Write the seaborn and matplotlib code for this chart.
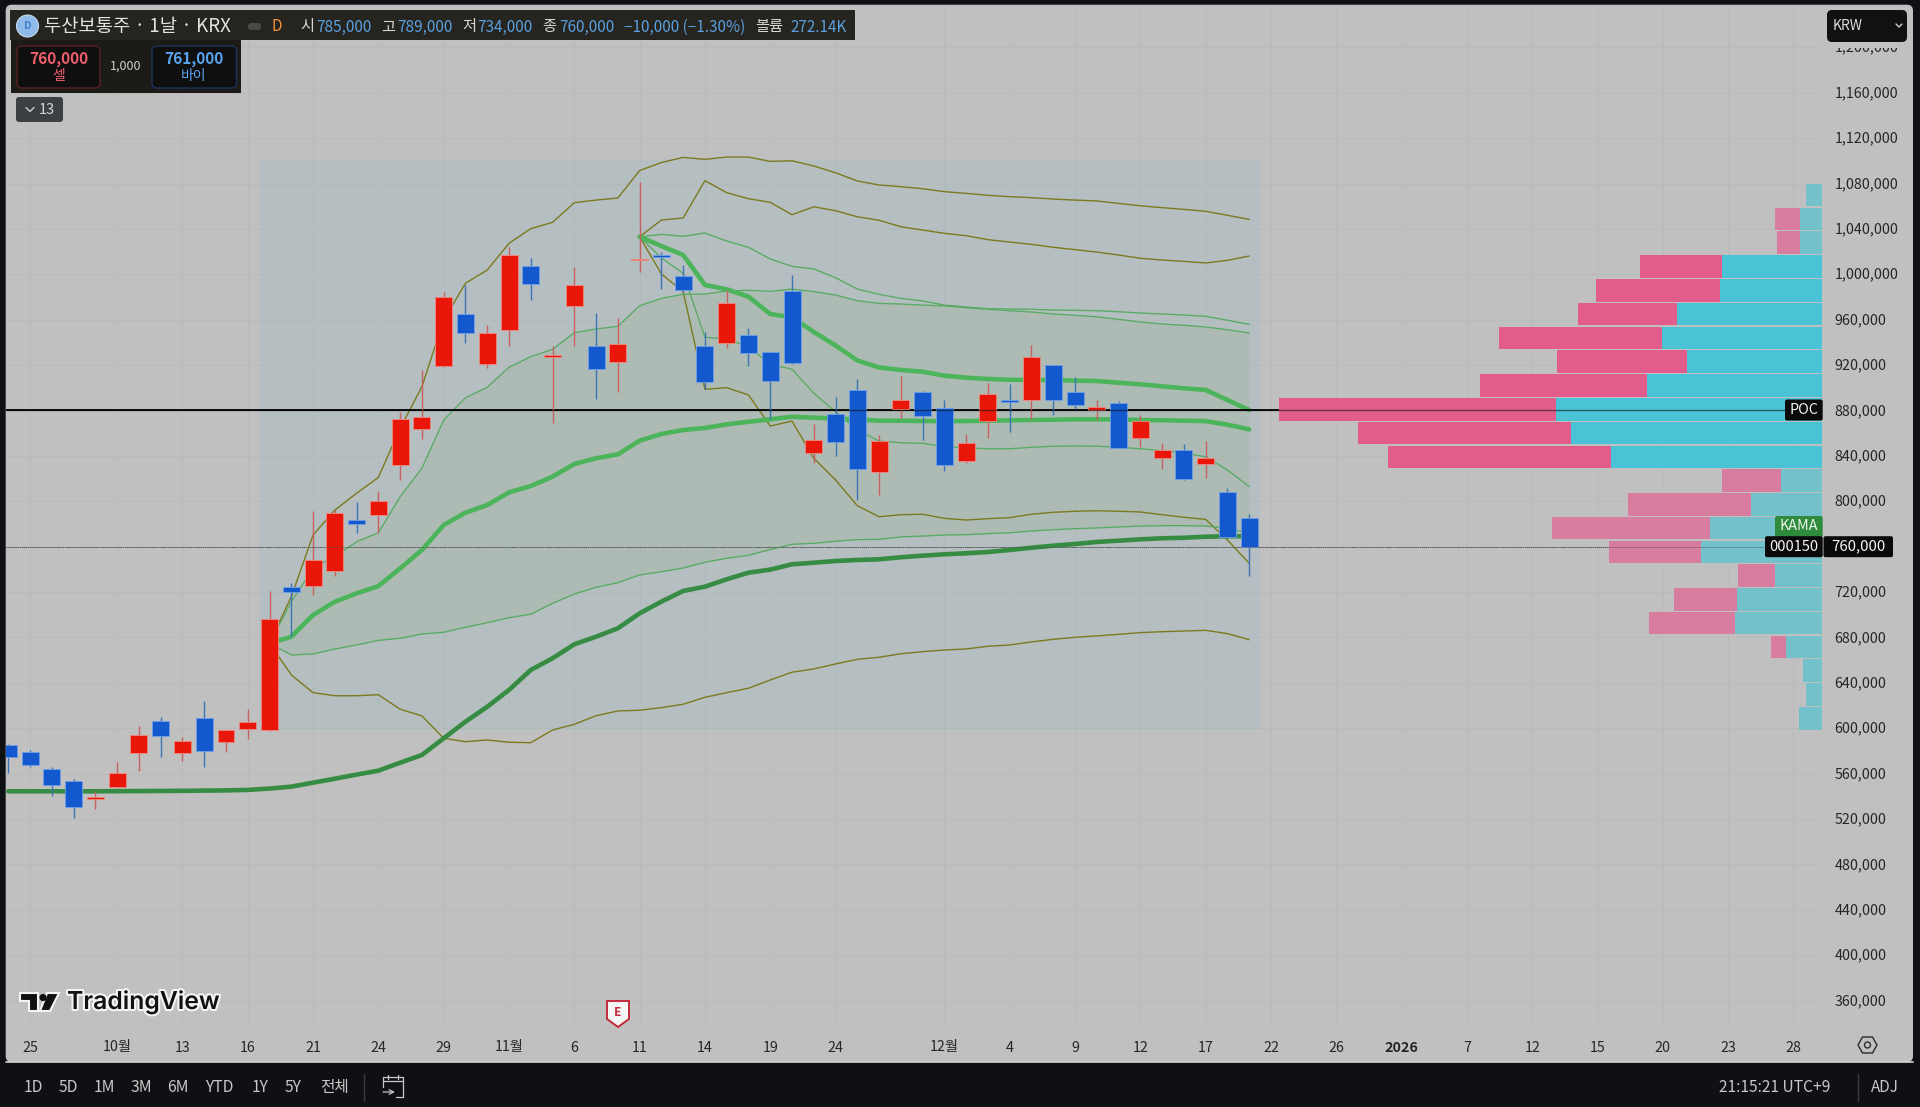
"""Doosan preferred daily candles with anchored VWAP bands and a volume profile."""

import numpy as np
import pandas as pd
import matplotlib
matplotlib.use("Agg")
import matplotlib.pyplot as plt
import matplotlib.patheffects as pe
from matplotlib.patches import FancyBboxPatch, Polygon, Circle, Rectangle
from matplotlib.transforms import ScaledTranslation
import seaborn as sns

# ── Candles ────────────────────────────────────────────────────────────────────

opens = [585300, 579100, 563900, 553900, 537700, 548600, 578500, 606700, 578500, 609100,
         587700, 599400, 598500, 724300, 725600, 738600, 783500, 787900, 831700, 864000,
         918900, 965300, 921000, 950700, 1007300, 926900, 971800, 936800, 922700, 1012900,
         1016700, 998200, 936800, 939700, 946100, 931300, 985000, 842800, 877200, 898300,
         825800, 881000, 896300, 881900, 835800, 871000, 889300, 889500, 920100, 896300,
         880400, 886900, 855500, 838400, 844900, 833100, 807900, 785000]
closes = [575000, 568000, 549800, 530400, 539800, 560600, 593900, 593500, 589100, 579800,
          598200, 605300, 696000, 720100, 748300, 790000, 780000, 800300, 872800, 874000,
          980000, 948500, 948300, 1017000, 991700, 928900, 990300, 916800, 938300, 1013700,
          1015000, 985900, 905100, 974400, 930900, 906000, 921800, 854000, 852500, 828700,
          853100, 889300, 874900, 831700, 851400, 894800, 887800, 927100, 889000, 885100,
          883100, 847200, 871000, 844900, 819900, 837900, 768800, 760000]
highs = [586000, 580900, 565600, 555600, 545000, 570000, 602000, 610000, 592100, 624000,
         599200, 617000, 721000, 728300, 791400, 792300, 799100, 809300, 879000, 915700,
         984100, 990600, 955300, 1023800, 1014400, 936800, 1006400, 965600, 961200, 1081000,
         1019900, 1007900, 948900, 986200, 952700, 931800, 999000, 868100, 892200, 908000,
         858100, 910700, 897200, 889300, 859300, 904000, 903100, 938000, 920500, 909200,
         889300, 888000, 876000, 851400, 850200, 852900, 812000, 789000]
lows = [560400, 566200, 540100, 521300, 529200, 547400, 562100, 575000, 571200, 566200,
        579100, 590600, 597400, 681300, 717300, 734500, 771800, 771800, 818800, 854600,
        918000, 939700, 917700, 937100, 977300, 868700, 937100, 890400, 896600, 1002300,
        986800, 984700, 898700, 934700, 919500, 872200, 921200, 833500, 840200, 800900,
        805800, 873100, 854000, 826700, 833500, 855500, 861300, 872500, 876300, 881000,
        871600, 847000, 848100, 828200, 819000, 820300, 768000, 734000]

# ── Moving average (from bar 0) ────────────────────────────────────────────────

kama = [544500, 544500, 544500, 544500, 544500, 544600, 544700, 544800, 544900, 545100,
        545300, 545700, 546900, 548600, 552100, 555600, 559200, 562700, 569700, 576500,
        591200, 605800, 619000, 633800, 651400, 661700, 674000, 680700, 688100, 701300,
        711600, 721000, 724800, 731300, 737100, 739800, 744500, 745900, 747400, 748300,
        748900, 750700, 752100, 753300, 754200, 755300, 757100, 759100, 760900, 762400,
        764200, 765300, 766500, 767400, 767900, 768800, 769200, 769200]

# ── Anchored VWAP bands, first set (from bar 12) ───────────────────────────────

a_mid = [674900, 680700, 699800, 711500, 718900, 725300, 740900, 757100, 779100, 790000,
         796700, 807900, 813500, 821700, 832900, 837900, 841400, 853400, 859300, 862800,
         864600, 867800, 870100, 872200, 874500, 873700, 872800, 872200, 871000, 871000,
         870700, 870700, 870700, 871000, 871400, 871600, 871900, 872200, 872200, 872200,
         871600, 871400, 871000, 870700, 867500, 863400]
a_up1 = [674900, 711500, 741000, 751200, 764400, 772300, 804100, 829100, 871600, 891300,
         900400, 918100, 927400, 933900, 948500, 951800, 954200, 972300, 978800, 982400,
         982600, 985300, 985900, 985000, 987000, 984700, 981800, 976700, 974400, 973800,
         972900, 972100, 970600, 969200, 967900, 966800, 965000, 963900, 962600, 960300,
         958000, 956200, 955100, 953600, 951200, 948300]
a_low1 = [674900, 664600, 665500, 669900, 673400, 677500, 679300, 683100, 684600, 689000,
          693000, 697500, 700500, 710100, 718300, 724200, 728300, 735100, 738000, 741200,
          746300, 749800, 752400, 757500, 762100, 763000, 764800, 766200, 766500, 768600,
          769400, 770300, 770600, 771500, 772300, 773800, 775000, 775900, 776500, 777400,
          778200, 778500, 778500, 778200, 776200, 771800]
a_up2 = [674900, 716000, 770300, 792300, 807100, 821100, 864300, 901000, 959700, 992100,
         1003800, 1027300, 1040200, 1045800, 1063100, 1065400, 1067200, 1091400, 1098500, 1103000,
         1101300, 1103300, 1103300, 1099500, 1100000, 1095400, 1089500, 1082200, 1078700, 1077200,
         1075400, 1072800, 1071300, 1069600, 1068400, 1067500, 1066300, 1065400, 1064600, 1062500,
         1060400, 1058700, 1057200, 1055500, 1052000, 1048400]
a_low2 = [674900, 647000, 631400, 628700, 628700, 629600, 616800, 610900, 591200, 588200,
          589700, 587700, 587300, 598500, 603500, 611100, 615300, 615900, 618200, 621200,
          627300, 631400, 635300, 642600, 649400, 652300, 656700, 660800, 662600, 665700,
          667500, 669000, 669900, 672300, 673400, 676100, 678400, 680200, 681400, 682800,
          684300, 685100, 685700, 686300, 683400, 678100]

# ── Anchored VWAP bands, second set (from bar 29) ──────────────────────────────

b_mid = [1033100, 1024900, 1017000, 990600, 986800, 980300, 965000, 962100, 949200, 937300,
         924100, 917900, 915700, 914200, 910700, 908900, 907800, 907100, 906900, 906900,
         906300, 906000, 904500, 903100, 901300, 899600, 898100, 889300, 880400]
b_up1 = [1033100, 1035200, 1033500, 1036400, 1029300, 1023800, 1013500, 1007000, 1004700, 997000,
         987000, 982400, 978800, 976500, 972900, 971200, 969700, 969400, 969200, 968500,
         968300, 967900, 967000, 965900, 965000, 964100, 963000, 959500, 955900]
b_low1 = [1033100, 1014400, 1000900, 944500, 943000, 936200, 920700, 916300, 895200, 878900,
          862800, 853100, 851600, 851100, 848100, 847200, 846300, 846300, 847600, 848500,
          848700, 848500, 847600, 846300, 844600, 842300, 839300, 827600, 812900]
b_up2 = [1033100, 1047800, 1049600, 1082500, 1071900, 1066600, 1063400, 1052500, 1059500, 1056000,
         1050700, 1047600, 1041900, 1039000, 1036100, 1034000, 1030500, 1028400, 1026400, 1023800,
         1021700, 1019600, 1017000, 1014100, 1012600, 1011400, 1010000, 1012300, 1016100]
b_low2 = [1033100, 1000300, 984700, 898700, 900100, 893700, 866300, 870700, 837900, 818800,
          796100, 786400, 788200, 788600, 785000, 783500, 784700, 785600, 788600, 790300,
          791200, 791700, 791200, 790600, 788200, 785900, 784100, 765900, 745400]

# ── Volume profile, top row first ──────────────────────────────────────────────

vp_prices = [1069700, 1048700, 1027800, 1006800, 985900, 964900, 944000, 923000, 902100,
             881100, 860200, 839200, 818300, 797300, 776400, 755400, 734500, 713500, 692600,
             671600, 650700, 629700, 608800]
vp_up = [16.3, 22.7, 22.7, 100.7, 102.7, 145.7, 160.3, 135.7, 175.0, 266.7, 251.0, 211.0,
         41.7, 71.7, 112.7, 121.0, 47.7, 85.7, 87.7, 36.7, 19.7, 16.0, 23.7]
vp_down = [0, 25.0, 22.3, 81.3, 124.0, 99.0, 163.3, 129.7, 167.7, 276.4, 213.7, 223.1,
           58.7, 122.7, 157.7, 92.0, 37.0, 63.0, 85.3, 15.0, 0, 0, 0]
vp_in_value_area = [False, False, False, True, True, True, True, True, True, True, True, True,
                    False, False, False, False, False, False, False, False, False, False, False]

# ── Axis labels ────────────────────────────────────────────────────────────────

price_ticks = [360000, 400000, 440000, 480000, 520000, 560000, 600000, 640000, 680000, 720000,
               760000, 800000, 840000, 880000, 920000, 960000, 1000000, 1040000, 1080000,
               1120000, 1160000, 1200000]
date_pos = [1, 5, 8, 11, 14, 17, 20, 23, 26, 29, 32, 35, 38, 43, 46, 49, 52, 55, 58, 61,
            64, 67, 70, 73, 76, 79, 82]
date_labels = ["25", "10월", "13", "16", "21", "24", "29", "11월", "6", "11", "14", "19", "24",
               "12월", "4", "9", "12", "17", "22", "26", "2026", "7", "12", "15", "20", "23", "28"]

POC_PRICE = 880000
LAST_PRICE = 760000
BOX_TOP = 1101300
BOX_BOTTOM = 598500
VP_ROW = 20950

# ── Style ──────────────────────────────────────────────────────────────────────

W, H = 1920, 1107
L, R, T, B = 5.7, 1822.5, 4.7, 1028.0
X0, DX = 8.3, 21.77             # pixel of bar 0, pixels per bar
Y880, PY = 410.5, 881.06        # pixel of 880,000, price per pixel

PAGE = "#0e1013"
PANEL = "#c0c0c0"
GRID = "#b9baba"
THICK = "#4cb45a"
DARK = "#368c42"
THIN = "#57ab62"
OLIVE = "#7b7a1f"
UP_FILL, UP_EDGE, UP_WICK = "#e8170a", "#ef8a80", "#c8605f"
DN_FILL, DN_EDGE, DN_WICK = "#1358cc", "#6fa0e8", "#3b74b8"
TXT_BLUE = "#5a9fe0"

sns.set_theme(style="whitegrid")
plt.rcParams["font.family"] = ["Noto Sans CJK KR", "DejaVu Sans"]
plt.rcParams["axes.unicode_minus"] = False


def y_px(price):
    return Y880 + (POC_PRICE - price) / PY


fig = plt.figure(figsize=(W / 100, H / 100), dpi=100, facecolor=PAGE)

# grey rounded panel behind the chart
bg = fig.add_axes([0, 0, 1, 1], zorder=0)
bg.set_xlim(0, W)
bg.set_ylim(H, 0)
bg.axis("off")
bg.add_patch(FancyBboxPatch((L + 6, T + 6), 1913 - L - 12, 1062 - T - 12,
                            boxstyle="round,pad=6", fc=PANEL, ec="none"))
bg.plot([L, 1912.5], [1062, 1062], color="#d4d4d4", lw=1.2)

# ── Price chart ────────────────────────────────────────────────────────────────

ax = fig.add_axes([L / W, 1 - B / H, (R - L) / W, (B - T) / H], zorder=1)
ax.patch.set_alpha(0)
ax.set_xlim((L - X0) / DX, (R - X0) / DX)
ax.set_ylim(POC_PRICE - (B - Y880) * PY, POC_PRICE + (Y880 - T) * PY)
for s in ax.spines.values():
    s.set_visible(False)
ax.grid(True, color=GRID, linewidth=0.7)
ax.set_axisbelow(True)
ax.yaxis.tick_right()
ax.set_yticks(price_ticks)
ax.set_yticklabels([f"{p:,}" for p in price_ticks])
ax.set_xticks(date_pos)
ax.set_xticklabels(date_labels)
ax.tick_params(axis="y", length=0, pad=8.8, labelsize=10.3, labelcolor="#262626")
ax.tick_params(axis="x", length=0, pad=9.0, labelsize=10.3, labelcolor="#262626")
ax.get_xticklabels()[date_labels.index("2026")].set_fontweight("bold")
nudge = ScaledTranslation(0, 1.2 / 100, fig.dpi_scale_trans)
for tick_label in ax.get_yticklabels():
    tick_label.set_transform(tick_label.get_transform() + nudge)

# anchored-VWAP background box and band fill
ax.add_patch(Rectangle((11.5, BOX_BOTTOM), 46, BOX_TOP - BOX_BOTTOM,
                       fc="#98bcc0", ec="none", alpha=0.25, zorder=1))
a_x = np.arange(12, 12 + len(a_mid))
ax.fill_between(a_x, a_low1, a_up1, color="#5aa03c", alpha=0.085, lw=0, zorder=1.1)

ax.axhline(LAST_PRICE, color="#555555", lw=0.7, ls=(0, (1, 1)), zorder=1.2)


def draw_line(start, values, color, lw):
    frame = pd.DataFrame({"bar": np.arange(start, start + len(values)), "price": values})
    sns.lineplot(data=frame, x="bar", y="price", color=color, linewidth=lw, estimator=None,
                 legend=False, ax=ax, zorder=2, solid_joinstyle="round")


for values, start in [(a_up2, 12), (a_low2, 12), (b_up2, 29), (b_low2, 29)]:
    draw_line(start, values, OLIVE, 1.0)
for values, start in [(a_up1, 12), (a_low1, 12), (b_up1, 29), (b_low1, 29)]:
    draw_line(start, values, THIN, 0.95)
draw_line(12, a_mid, THICK, 3.3)
draw_line(29, b_mid, THICK, 3.3)
draw_line(0, kama, DARK, 3.3)
ax.set_xlabel("")
ax.set_ylabel("")

ax.axhline(POC_PRICE, color="#0a0a0a", lw=1.4, zorder=2.5)

# candles
o = np.array(opens)
c = np.array(closes)
bars = np.arange(len(o))
is_up = c >= o
ax.vlines(bars[is_up], np.array(lows)[is_up], np.array(highs)[is_up],
          color=UP_WICK, lw=1.0, zorder=3)
ax.vlines(bars[~is_up], np.array(lows)[~is_up], np.array(highs)[~is_up],
          color=DN_WICK, lw=1.0, zorder=3)
ax.bar(bars[is_up], np.abs(c - o)[is_up], bottom=np.minimum(o, c)[is_up], width=0.78,
       color=UP_FILL, edgecolor=UP_EDGE, linewidth=0.6, zorder=3.2)
ax.bar(bars[~is_up], np.abs(c - o)[~is_up], bottom=np.minimum(o, c)[~is_up], width=0.78,
       color=DN_FILL, edgecolor=DN_EDGE, linewidth=0.6, zorder=3.2)

# ── Volume profile, growing left from the price axis ───────────────────────────

vp = ax.twiny()
vp.patch.set_alpha(0)
vp.set_xlim(R - L, 0)
vp.grid(False)
vp.set_xticks([])
for s in vp.spines.values():
    s.set_visible(False)
teal = ["#4ac3d6" if v else "#73c2cb" for v in vp_in_value_area]
pink = ["#e35d8c" if v else "#d97da0" for v in vp_in_value_area]
vp.barh(vp_prices, vp_up, height=VP_ROW * 0.95, color=teal, lw=0)
vp.barh(vp_prices, vp_down, left=vp_up, height=VP_ROW * 0.95, color=pink, lw=0)
vp.axhline(POC_PRICE, color="#0a0a0a", lw=1.0, alpha=0.55)
vp.axhline(LAST_PRICE, color="#555555", lw=0.6, ls=(0, (1, 1)))
vp.plot([0, 0], [BOX_BOTTOM, 1080000], color="#9dc9cf", lw=0.8)

# ── Overlay: header, tags, toolbar ─────────────────────────────────────────────

ov = fig.add_axes([0, 0, 1, 1], zorder=5)
ov.set_xlim(0, W)
ov.set_ylim(H, 0)
ov.axis("off")


def box(x0, y0, x1, y1, fc, ec="none", r=3, lw=1.0):
    ov.add_patch(FancyBboxPatch((x0 + r, y0 + r), x1 - x0 - 2 * r, y1 - y0 - 2 * r,
                                boxstyle=f"round,pad={r}", fc=fc, ec=ec, lw=lw))


def label(x, y, s, color="#d6d6d6", size=10.5, ha="left", **kw):
    ov.text(x, y, s, color=color, fontsize=size, ha=ha, va="center", **kw)


# legend strip
ov.add_patch(Rectangle((10, 10), 845, 30, fc="#26241f", ec="none"))
ov.add_patch(Rectangle((11, 40), 230, 53, fc="#1c1b18", ec="none"))
ov.add_patch(Circle((27.5, 26), 11, fc="#8fb9e8", ec="#c9d9ee", lw=0.8))
label(27.5, 26, "D", "#3f7ed0", 7.5, ha="center", fontweight="bold")
label(44, 26.5, "두산보통주 · 1날 · KRX", "#e2e2e2", 13.5)
box(248, 23, 261, 30, "#4a4a44", r=3)
label(277, 26.5, "D", "#f0953a", 11, ha="center")
for x, s in [(300, "시"), (381, "고"), (462, "저"), (542.5, "종"), (755.5, "볼륨")]:
    label(x, 27, s, "#d6d6d6", 11)
for x, s in [(316, "785,000"), (397, "789,000"), (477.5, "734,000"), (559.6, "760,000"),
             (624.5, "−10,000 (−1.30%)"), (790, "272.14K")]:
    label(x, 27, s, TXT_BLUE, 11)

# sell / buy
box(17, 46, 100, 88, "#0f0f10", "#5a2024", r=5)
box(152, 46, 236.5, 88, "#0f0f10", "#1e3260", r=5)
label(58.5, 59, "760,000", "#ef5f6c", 11.2, ha="center", fontweight="bold")
label(58.5, 76, "셀", "#ef5f6c", 10, ha="center")
label(194, 59, "761,000", "#5aa4f0", 11.2, ha="center", fontweight="bold")
label(194, 76, "바이", "#5aa4f0", 10, ha="center")
label(126, 66.5, "1,000", "#cfcfcf", 9, ha="center")

# collapsed indicators
box(16, 97, 63, 122, "#3c4043", r=3)
ov.plot([26, 30, 34], [107.5, 111.5, 107.5], color="#d0d0d0", lw=1.0)
label(39, 109.5, "13", "#d6d6d6", 10.5)

# currency button, with the panel colour hiding the top of the 1,200,000 label
ov.add_patch(Rectangle((1828, 41), 80, 6.5, fc=PANEL, ec="none"))
box(1827, 10, 1907, 42, "#101113", r=5)
label(1832.5, 25.5, "KRW", "#dcdcdc", 10)
ov.plot([1896, 1899, 1902], [24, 27, 24], color="#cfcfcf", lw=1.0)

# price tags
poc_y, last_y = y_px(POC_PRICE), y_px(LAST_PRICE)
box(1785, poc_y - 11, 1822.7, poc_y + 10, "#0a0a0a", r=2)
label(1803.5, poc_y - 0.5, "POC", "#f5f5f5", 10.3, ha="center", fontweight="medium")
box(1775, 516, 1822.7, 537, "#2f8c3c", r=2)
label(1799, 526, "KAMA", "#eef5ee", 10.3, ha="center", fontweight="medium")
box(1765, last_y - 10.5, 1822.7, last_y + 10.5, "#0a0a0a", r=2)
label(1794, last_y, "000150", "#f5f5f5", 10.5, ha="center")
box(1823.5, last_y - 10.5, 1893, last_y + 10.5, "#0a0a0a", r=2)
label(1858, last_y - 0.5, f"{LAST_PRICE:,}", "#f5f5f5", 10.8, ha="center")

# logo
halo = [pe.withStroke(linewidth=3, foreground="#f4f4f4")]
for pts in ([(20, 993), (38, 993), (38, 1011), (29, 1011), (29, 1001), (20, 1001)],
            [(47, 993), (59, 993), (50, 1011), (40, 1011)]):
    ov.add_patch(Polygon(pts, closed=True, fc="#111111", ec="#f4f4f4", lw=1.5))
ov.add_patch(Circle((43, 997.5), 3.6, fc="#111111", ec="none"))
ov.text(67, 1001.5, "TradingView", color="#111111", fontsize=17.8, ha="left", va="center",
        family=["Inter", "DejaVu Sans"], fontweight="semibold", path_effects=halo)

# earnings flag
ov.add_patch(Polygon([(607, 1001), (629, 1001), (629, 1019), (618, 1027), (607, 1019)],
                     closed=True, fc="#f4f4f4", ec="#c22a3c", lw=1.4))
label(618, 1012.5, "E", "#c22a3c", 8.5, ha="center", fontweight="bold")

# settings glyph next to the date scale
ov.add_patch(Polygon([(1858, 1045), (1862.5, 1037), (1872.5, 1037), (1877, 1045),
                      (1872.5, 1053), (1862.5, 1053)],
                     closed=True, fc="none", ec="#2a2a2a", lw=1.0))
ov.add_patch(Circle((1867.5, 1045), 3, fc="none", ec="#2a2a2a", lw=1.0))

# bottom toolbar
for x, s in [(33.7, "1D"), (68.6, "5D"), (104.7, "1M"), (141, "3M"), (177.6, "6M"),
             (219, "YTD"), (259.6, "1Y"), (293, "5Y"), (335, "전체")]:
    label(x, 1087.5, s, "#c8c8c8", 11.3, ha="center")
ov.plot([363.7, 363.7], [1074, 1101], color="#3a3a3a", lw=1.0)
for xs, ys in [([383, 403], [1081, 1081]), ([383, 383], [1077, 1087]), ([403, 403], [1077, 1097]),
               ([396, 403], [1097, 1097]), ([383, 403], [1077, 1077]), ([388, 388], [1075, 1079]),
               ([398, 398], [1075, 1079])]:
    ov.plot(xs, ys, color="#c8c8c8", lw=0.9)
ov.annotate("", xy=(395, 1092), xytext=(383, 1092),
            arrowprops=dict(arrowstyle="->", color="#c8c8c8", lw=0.9, mutation_scale=8,
                            shrinkA=0, shrinkB=0))
label(1775, 1087.5, "21:15:21 UTC+9", "#c8c8c8", 11.2, ha="center")
ov.plot([1857.7, 1857.7], [1074, 1101], color="#3a3a3a", lw=1.0)
label(1884.7, 1087.5, "ADJ", "#c8c8c8", 11, ha="center")

fig.savefig("out.png", dpi=100, facecolor=PAGE)
